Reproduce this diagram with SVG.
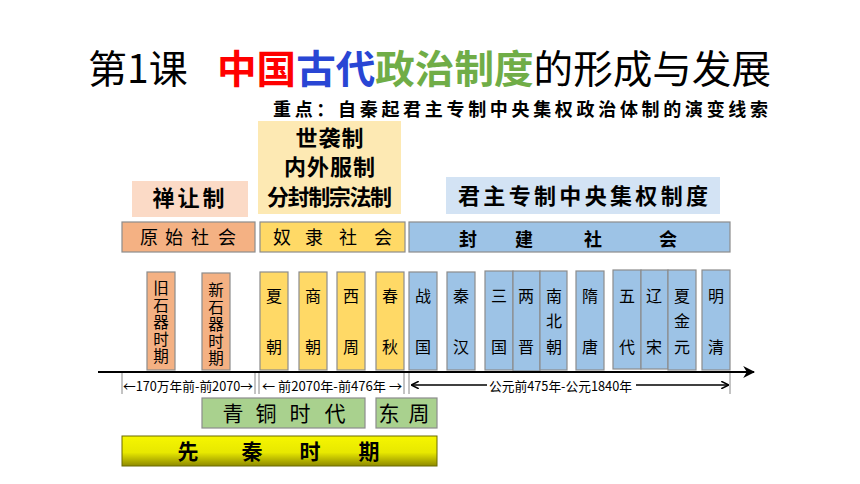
<svg xmlns="http://www.w3.org/2000/svg" width="860" height="484" viewBox="0 0 860 484">
<defs>
<style>
text{font-family:"Noto Sans CJK SC","Liberation Sans",sans-serif;fill:#000}
.title{font-size:39px}
.b{font-weight:700}
.sub{font-size:18px;font-weight:700}
.top{font-size:22px;font-weight:700}
.row{font-size:18px}
.col{font-size:16px;text-anchor:middle}
.vert{font-size:15.5px;writing-mode:vertical-rl;letter-spacing:1.5px}
.date{font-size:13px}
.g{font-size:21px}
.box{stroke:#8c8c8c;stroke-width:1.2}
.or{fill:#f4b183}
.ye{fill:#ffd966}
.bl{fill:#9dc3e6}
.gr{fill:#a9d18e}
.tick{stroke:#888;stroke-width:1}
.ar{stroke:#000;stroke-width:1.5;fill:none}
</style>
<linearGradient id="yg" x1="0" y1="0" x2="0" y2="1">
<stop offset="0" stop-color="#f6f600"/>
<stop offset="0.55" stop-color="#e8e800"/>
<stop offset="1" stop-color="#8e8a00"/>
</linearGradient>
<marker id="ah" viewBox="0 0 10 10" refX="9" refY="5" markerWidth="6" markerHeight="6" orient="auto-start-reverse" markerUnits="strokeWidth">
<path d="M0,0 L10,5 L0,10 L3,5 z" fill="#000"/>
</marker>
<marker id="sa" viewBox="0 0 10 10" refX="9" refY="5" markerWidth="5" markerHeight="5" orient="auto-start-reverse" markerUnits="strokeWidth">
<path d="M0,0 L10,5 L0,10" fill="none" stroke="#000" stroke-width="2"/>
</marker>
</defs>

<g id="title">
<text class="title" x="88" y="83">第1课</text>
<text class="title b" x="217" y="83" textLength="554" lengthAdjust="spacingAndGlyphs"><tspan fill="#ff0000">中国</tspan><tspan fill="#2946d4">古代</tspan><tspan fill="#70ad47">政治制度</tspan><tspan font-weight="400">的形成与发展</tspan></text>
<text class="sub" x="273" y="116" textLength="495" lengthAdjust="spacing">重点：自秦起君主专制中央集权政治体制的演变线索</text>
</g>

<g id="shanrang">
<rect x="132" y="181" width="116" height="36" fill="#fbdac6"/>
<text class="top" x="190" y="206" text-anchor="middle" letter-spacing="3">禅让制</text>
</g>
<g id="shixi">
<rect x="258" y="121" width="143" height="93" fill="#fde9b3"/>
<text class="top" x="330" y="146" text-anchor="middle" font-size="20" letter-spacing="1">世袭制</text>
<text class="top" x="330" y="175" text-anchor="middle" font-size="20" letter-spacing="1">内外服制</text>
<text class="top" x="267" y="205" font-size="19" textLength="125" lengthAdjust="spacing">分封制宗法制</text>
</g>
<g id="junzhu">
<rect x="446" y="177" width="274" height="37" fill="#d3e3f4"/>
<text class="top" x="458" y="204" textLength="250" lengthAdjust="spacing">君主专制中央集权制度</text>
</g>

<g id="yuanshi">
<rect class="box or" x="122" y="222" width="133" height="30"/>
<text class="row" y="244"><tspan x="140">原</tspan><tspan x="165">始</tspan><tspan x="191">社</tspan><tspan x="218">会</tspan></text>
</g>
<g id="nuli">
<rect class="box ye" x="260" y="222" width="145" height="30"/>
<text class="row" y="244"><tspan x="273">奴</tspan><tspan x="305">隶</tspan><tspan x="339">社</tspan><tspan x="374">会</tspan></text>
</g>
<g id="fengjian">
<rect class="box bl" x="409" y="222" width="321" height="30"/>
<text class="row" y="246" font-size="17" font-weight="700"><tspan x="459">封</tspan><tspan x="515">建</tspan><tspan x="584">社</tspan><tspan x="659">会</tspan></text>
</g>

<g id="jiushiqi">
<rect class="box or" x="147" y="272" width="28" height="98"/>
<text class="vert" x="161" y="280">旧石器时期</text>
</g>
<g id="xinshiqi">
<rect class="box or" x="202" y="273" width="28" height="97"/>
<text class="vert" x="216" y="282">新石器时期</text>
</g>
<g id="xia">
<rect class="box ye" x="260" y="272" width="28" height="98"/>
<text class="col"><tspan x="274" y="302">夏</tspan><tspan x="274" y="353">朝</tspan></text>
</g>
<g id="shang">
<rect class="box ye" x="299" y="272" width="28" height="98"/>
<text class="col"><tspan x="313" y="302">商</tspan><tspan x="313" y="353">朝</tspan></text>
</g>
<g id="xizhou">
<rect class="box ye" x="337" y="272" width="28" height="98"/>
<text class="col"><tspan x="351" y="302">西</tspan><tspan x="351" y="353">周</tspan></text>
</g>
<g id="chunqiu">
<rect class="box ye" x="376" y="272" width="28" height="98"/>
<text class="col"><tspan x="390" y="302">春</tspan><tspan x="390" y="353">秋</tspan></text>
</g>
<g id="zhanguo">
<rect class="box bl" x="409" y="272" width="28" height="98"/>
<text class="col"><tspan x="423" y="302">战</tspan><tspan x="423" y="353">国</tspan></text>
</g>
<g id="qinhan">
<rect class="box bl" x="447" y="272" width="28" height="98"/>
<text class="col"><tspan x="461" y="302">秦</tspan><tspan x="461" y="353">汉</tspan></text>
</g>
<g id="sanguo">
<rect class="box bl" x="485" y="271" width="28" height="99"/>
<text class="col"><tspan x="499" y="302">三</tspan><tspan x="499" y="353">国</tspan></text>
</g>
<g id="liangjin">
<rect class="box bl" x="513" y="271" width="27" height="100"/>
<text class="col"><tspan x="526" y="302">两</tspan><tspan x="526" y="353">晋</tspan></text>
</g>
<g id="nanbeichao">
<rect class="box bl" x="540" y="271" width="27" height="99"/>
<text class="col"><tspan x="554" y="302">南</tspan><tspan x="554" y="327">北</tspan><tspan x="554" y="353">朝</tspan></text>
</g>
<g id="suitang">
<rect class="box bl" x="576" y="271" width="28" height="99"/>
<text class="col"><tspan x="590" y="302">隋</tspan><tspan x="590" y="353">唐</tspan></text>
</g>
<g id="wudai">
<rect class="box bl" x="613" y="270" width="28" height="99"/>
<text class="col"><tspan x="627" y="302">五</tspan><tspan x="627" y="353">代</tspan></text>
</g>
<g id="liaosong">
<rect class="box bl" x="641" y="270" width="27" height="99"/>
<text class="col"><tspan x="654" y="302">辽</tspan><tspan x="654" y="353">宋</tspan></text>
</g>
<g id="xiajinyuan">
<rect class="box bl" x="668" y="270" width="28" height="100"/>
<text class="col"><tspan x="682" y="302">夏</tspan><tspan x="682" y="327">金</tspan><tspan x="682" y="353">元</tspan></text>
</g>
<g id="mingqing">
<rect class="box bl" x="702" y="270" width="28" height="100"/>
<text class="col"><tspan x="716" y="302">明</tspan><tspan x="716" y="353">清</tspan></text>
</g>

<g id="qingtong">
<rect class="box gr" x="202" y="398" width="163" height="30"/>
<text class="g" y="421" text-anchor="middle"><tspan x="233">青</tspan><tspan x="266">铜</tspan><tspan x="300">时</tspan><tspan x="335">代</tspan></text>
</g>
<g id="dongzhou">
<rect class="box gr" x="376" y="398" width="61" height="30"/>
<text class="g" y="421" text-anchor="middle"><tspan x="389">东</tspan><tspan x="419">周</tspan></text>
</g>
<g id="xianqin">
<rect x="122" y="436" width="315" height="30" fill="url(#yg)" stroke="#6b6b00" stroke-width="1"/>
<text class="g" y="459" text-anchor="middle" font-weight="700"><tspan x="188">先</tspan><tspan x="252">秦</tspan><tspan x="310">时</tspan><tspan x="369">期</tspan></text>
</g>

<g id="connectors">
<line x1="98" y1="372" x2="754" y2="372" stroke="#000" stroke-width="2" marker-end="url(#ah)"/>
<line class="tick" x1="122" y1="373" x2="122" y2="394"/>
<line class="tick" x1="255" y1="373" x2="255" y2="394"/>
<line class="tick" x1="259" y1="373" x2="259" y2="394"/>
<line class="tick" x1="404" y1="373" x2="404" y2="394"/>
<line class="tick" x1="409" y1="373" x2="409" y2="394"/>
<line class="tick" x1="730" y1="373" x2="730" y2="394"/>
<line class="ar" x1="487" y1="385" x2="412" y2="385" marker-end="url(#sa)"/>
<line class="ar" x1="636" y1="385" x2="728" y2="385" marker-end="url(#sa)"/>
<text class="date" x="123" y="391" textLength="130" lengthAdjust="spacingAndGlyphs">←170万年前-前2070→</text>
<text class="date" x="262" y="391" textLength="140" lengthAdjust="spacingAndGlyphs">←  前2070年-前476年 →</text>
<text class="date" x="489" y="391" textLength="143" lengthAdjust="spacingAndGlyphs">公元前475年-公元1840年</text>
</g>
</svg>
